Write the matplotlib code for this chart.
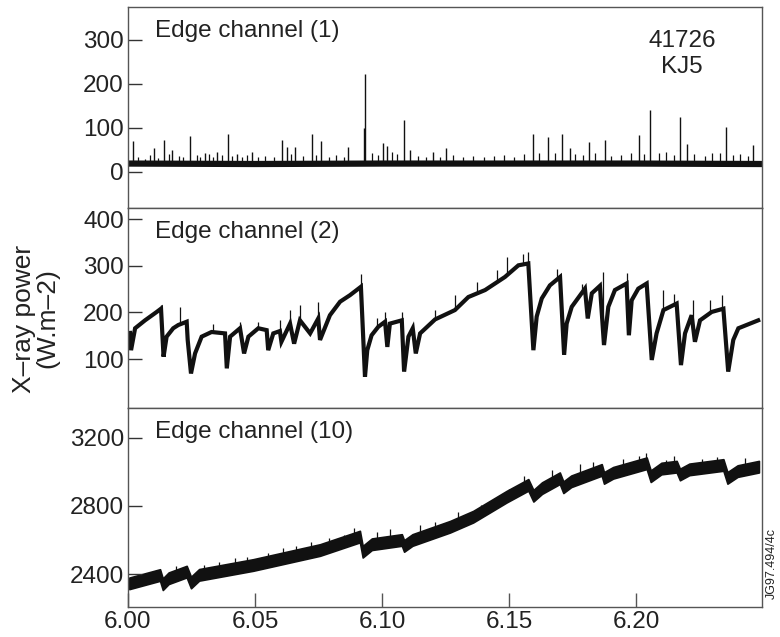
import numpy as np
import matplotlib
matplotlib.use("Agg")
import matplotlib.pyplot as plt

plt.rcParams['font.family'] = ['Liberation Sans', 'DejaVu Sans']

# Edge channel (1): baseline level and ELM spikes
edge1_t = [6.0005, 6.05, 6.10, 6.15, 6.20, 6.2484]
edge1_v = [19, 18, 19, 19, 19, 18]
spike1_t = [6.0018, 6.0104, 6.0142, 6.0175, 6.0244, 6.0303, 6.0349, 6.0392, 6.0428, 6.0487,
            6.0605, 6.0625, 6.0657, 6.0723, 6.0760, 6.0867, 6.0930, 6.0933, 6.1005, 6.1018,
            6.1088, 6.1110, 6.1202, 6.1252, 6.1596, 6.1652, 6.1710, 6.1740, 6.1815, 6.1878,
            6.2012, 6.2055, 6.2173, 6.2202, 6.2353, 6.2462]
spike1_v = [71, 55, 73, 50, 82, 43, 45, 86, 40, 45,
            73, 57, 57, 86, 71, 57, 100, 222, 65, 60,
            118, 50, 45, 54, 86, 80, 86, 55, 69, 73,
            84, 141, 124, 64, 103, 61]
minor1_t = [6.0040, 6.0065, 6.0085, 6.0120, 6.0160, 6.0200, 6.0215, 6.0270, 6.0285, 6.0320,
            6.0335, 6.0370, 6.0410, 6.0450, 6.0470, 6.0510, 6.0540, 6.0575, 6.0640, 6.0690,
            6.0740, 6.0790, 6.0820, 6.0850, 6.0960, 6.0985, 6.1040, 6.1060, 6.1140, 6.1175,
            6.1230, 6.1280, 6.1320, 6.1360, 6.1400, 6.1440, 6.1480, 6.1520, 6.1560, 6.1620,
            6.1680, 6.1760, 6.1790, 6.1840, 6.1900, 6.1940, 6.1980, 6.2030, 6.2090, 6.2120,
            6.2150, 6.2230, 6.2270, 6.2300, 6.2330, 6.2380, 6.2410, 6.2440]
minor1_v = [35, 30, 38, 32, 40, 36, 33, 38, 35, 40,
            34, 38, 36, 33, 39, 35, 37, 34, 40, 36,
            38, 34, 39, 35, 42, 38, 45, 40, 36, 33,
            35, 38, 34, 37, 33, 36, 38, 35, 40, 42,
            44, 40, 38, 42, 36, 39, 44, 40, 42, 45,
            38, 40, 36, 44, 42, 38, 40, 36]

# Edge channel (2): sawtooth with ELM crashes and recoveries
edge2_t = [6.0008, 6.0012, 6.0028, 6.0067, 6.0113, 6.0130, 6.0140, 6.0152, 6.0178, 6.0198,
           6.0231, 6.0235, 6.0248, 6.0264, 6.0290, 6.0329, 6.0382, 6.0389, 6.0402, 6.0441,
           6.0457, 6.0474, 6.0513, 6.0546, 6.0552, 6.0572, 6.0598, 6.0604, 6.0638, 6.0654,
           6.0677, 6.0717, 6.0749, 6.0756, 6.0795, 6.0835, 6.0874, 6.0917, 6.0933, 6.0942,
           6.0959, 6.0985, 6.1012, 6.1021, 6.1031, 6.1078, 6.1087, 6.1104, 6.1121, 6.1133,
           6.1150, 6.1209, 6.1287, 6.1340, 6.1406, 6.1484, 6.1537, 6.1576, 6.1596, 6.1609,
           6.1629, 6.1661, 6.1701, 6.1717, 6.1727, 6.1747, 6.1799, 6.1810, 6.1826, 6.1858,
           6.1874, 6.1891, 6.1917, 6.1963, 6.1972, 6.1983, 6.2009, 6.2042, 6.2062, 6.2081,
           6.2108, 6.2160, 6.2177, 6.2193, 6.2219, 6.2232, 6.2252, 6.2298, 6.2344, 6.2363,
           6.2383, 6.2403, 6.2481]
edge2_v = [156, 119, 166, 183, 201, 208, 105, 148, 166, 173,
           180, 141, 69, 112, 148, 158, 155, 80, 148, 166,
           112, 148, 166, 162, 119, 155, 160, 137, 176, 133,
           183, 155, 187, 141, 194, 223, 237, 255, 62, 119,
           151, 169, 180, 126, 176, 183, 73, 148, 166, 112,
           155, 185, 205, 233, 248, 276, 301, 305, 119, 191,
           230, 258, 276, 109, 176, 212, 251, 187, 241, 257,
           130, 212, 248, 262, 151, 226, 251, 262, 98, 155,
           205, 219, 87, 155, 194, 137, 183, 201, 208, 73,
           141, 166, 183]
spike2_t = [6.0130, 6.0205, 6.0336, 6.0441, 6.0513, 6.0598, 6.0638, 6.0677, 6.0749, 6.0917,
            6.0979, 6.1012, 6.1078, 6.1209, 6.1287, 6.1373, 6.1452, 6.1491, 6.1556, 6.1576,
            6.1688, 6.1786, 6.1871, 6.1963, 6.2108, 6.2150, 6.2226, 6.2290, 6.2337]
spike2_v = [216, 212, 176, 180, 180, 183, 205, 216, 223, 283,
            188, 201, 201, 205, 237, 266, 291, 319, 326, 330,
            294, 262, 287, 284, 248, 240, 226, 226, 237]

# Edge channel (10): slow rise with small ELM drops
edge10_t = [6.0005, 6.0126, 6.0137, 6.0160, 6.0231, 6.0248, 6.0280, 6.0493, 6.0756, 6.0913,
            6.0924, 6.0960, 6.1078, 6.1087, 6.1120, 6.1268, 6.1359, 6.1491, 6.1576, 6.1596,
            6.1630, 6.1700, 6.1714, 6.1745, 6.1865, 6.1874, 6.1910, 6.2042, 6.2058, 6.2100,
            6.2160, 6.2173, 6.2210, 6.2344, 6.2360, 6.2400, 6.2484]
edge10_v = [2345, 2394, 2340, 2375, 2414, 2350, 2395, 2453, 2541, 2620,
            2531, 2575, 2600, 2565, 2600, 2678, 2737, 2855, 2924, 2860,
            2905, 2963, 2910, 2945, 3012, 2965, 2995, 3051, 2975, 3020,
            3031, 2985, 3015, 3041, 2965, 3005, 3031]
spike10_t = [6.0060, 6.0110, 6.0190, 6.0300, 6.0360, 6.0420, 6.0470, 6.0550, 6.0610, 6.0660,
             6.0720, 6.0790, 6.0850, 6.0890, 6.0980, 6.1030, 6.1150, 6.1210, 6.1300, 6.1390,
             6.1440, 6.1500, 6.1560, 6.1670, 6.1780, 6.1830, 6.1950, 6.2010, 6.2040, 6.2120,
             6.2150, 6.2260, 6.2320, 6.2430]
spike10_v = [2400, 2425, 2445, 2450, 2470, 2495, 2500, 2525, 2555, 2565,
             2590, 2610, 2630, 2670, 2645, 2665, 2690, 2705, 2765, 2805,
             2840, 2900, 2975, 3010, 3045, 3060, 3075, 3095, 3110, 3070,
             3095, 3075, 3090, 3080]

fig = plt.figure(figsize=(7.8, 6.37), dpi=100)
left, width = 0.1641, 0.8128
ax1 = fig.add_axes([left, 0.6735, width, 0.3155])
ax2 = fig.add_axes([left, 0.3595, width, 0.3140])
ax3 = fig.add_axes([left, 0.0471, width, 0.3124])

ink = '#111111'
ax1.plot(edge1_t, edge1_v, color=ink, lw=4.5)
base1 = np.interp(spike1_t, edge1_t, edge1_v)
ax1.vlines(spike1_t, base1, spike1_v, color=ink, lw=1.0)
base1m = np.interp(minor1_t, edge1_t, edge1_v)
ax1.vlines(minor1_t, base1m, minor1_v, color=ink, lw=0.9)

ax2.plot(edge2_t, edge2_v, color=ink, lw=3.0, solid_joinstyle='miter')
base2 = np.interp(spike2_t, edge2_t, edge2_v)
ax2.vlines(spike2_t, base2, spike2_v, color=ink, lw=0.9)

e10_t = np.array(edge10_t)
e10_v = np.array(edge10_v)
ax3.fill_between(e10_t, e10_v - 34, e10_v + 34, color=ink, lw=1.2, edgecolor=ink)
base10 = np.interp(spike10_t, e10_t, e10_v)
ax3.vlines(spike10_t, base10, spike10_v, color=ink, lw=0.9)

ax1.set_ylim(-82, 375)
ax2.set_ylim(-5, 424)
ax3.set_ylim(2206, 3376)
ax1.set_yticks([0, 100, 200, 300])
ax2.set_yticks([100, 200, 300, 400])
ax3.set_yticks([2400, 2800, 3200])
ax3.set_xticks([6.00, 6.05, 6.10, 6.15, 6.20])
ax3.set_xticklabels(['6.00', '6.05', '6.10', '6.15', '6.20'])

titles = ['Edge channel (1)', 'Edge channel (2)', 'Edge channel (10)']
for ax, title in zip([ax1, ax2, ax3], titles):
    ax.set_xlim(6.0, 6.2496)
    for s in ax.spines.values():
        s.set_color('#555555')
        s.set_linewidth(1.0)
    ax.tick_params(axis='y', direction='in', length=10, width=1.0,
                   labelsize=17.5, labelcolor='#222222', color='#333333', pad=3)
    ax.tick_params(axis='x', direction='in', length=10, width=1.0,
                   labelsize=17.5, labelcolor='#222222', color='#555555', pad=3)
    ax.text(0.043, 0.935, title, transform=ax.transAxes, ha='left', va='top',
            fontsize=17.5, color='#222222')

for ax in (ax1, ax2):
    ax.tick_params(axis='x', bottom=False, labelbottom=False)

ax1.text(0.874, 0.885, '41726\nKJ5', transform=ax1.transAxes, ha='center', va='top',
         fontsize=17.5, color='#222222', linespacing=1.25)

fig.text(0.046, 0.5, 'X–ray power\n(W.m–2)', rotation=90, ha='center', va='center',
         fontsize=19, color='#222222', multialignment='center', linespacing=0.95)
fig.text(0.99, 0.115, 'JG97.494/4c', rotation=90, ha='center', va='center',
         fontsize=9, color='#222222')

fig.savefig('out.png', dpi=100)
